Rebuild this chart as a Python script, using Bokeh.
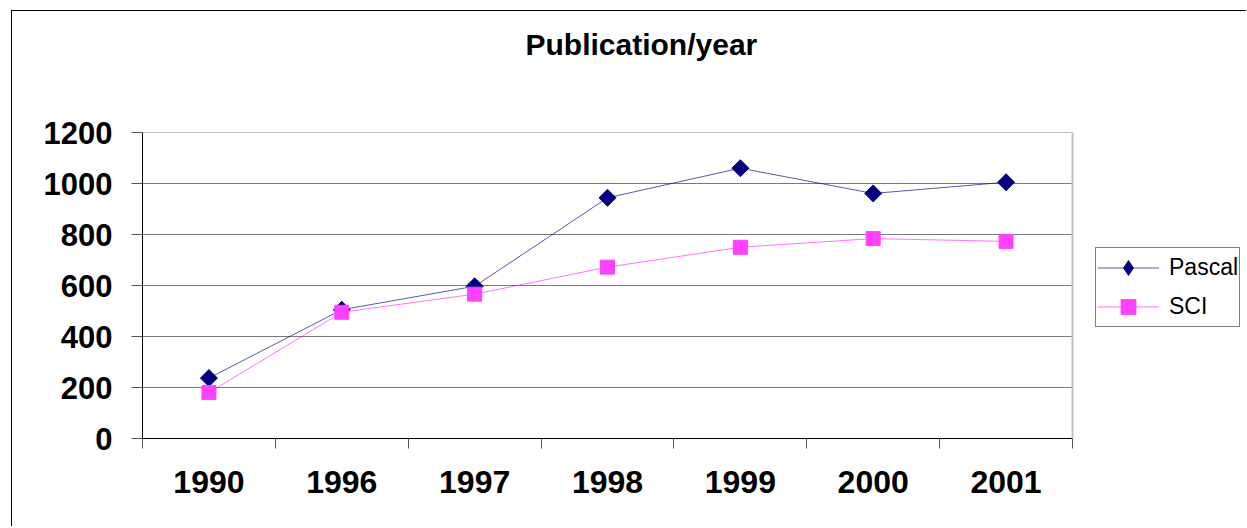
from bokeh.plotting import figure
from bokeh.models import Range1d, FixedTicker, Span, Legend, LegendItem, Title
from bokeh.embed import file_html
from bokeh.resources import INLINE

# ---- data ----
years = ["1990", "1996", "1997", "1998", "1999", "2000", "2001"]
pascal = [237, 505, 597, 944, 1060, 961, 1005]
sci = [180, 495, 566, 672, 750, 784, 773]
y_ticks = [0, 200, 400, 600, 800, 1000, 1200]
series_names = ["Pascal", "SCI"]
title_text = "Publication/year"

FONT = "Liberation Sans"
n = len(years)
xs = [i + 0.5 for i in range(n)]

# layout (pixels): plot area 930 px wide, drawing frame runs on to the right edge
CANVAS_W, CANVAS_H = 1235, 516
LEFT, TOP, BOTTOM = 130, 121, 89
PLOT_W = 930
frame_w = CANVAS_W - LEFT
x_end = n * frame_w / PLOT_W

p = figure(width=CANVAS_W, height=CANVAS_H,
           x_range=Range1d(0, x_end), y_range=Range1d(0, max(y_ticks)),
           output_backend="svg", toolbar_location=None,
           min_border_left=LEFT, min_border_right=0,
           min_border_top=TOP, min_border_bottom=BOTTOM,
           margin=(10, 0, 0, 11))
p.styles = {"border-left": "1px solid black", "border-top": "1px solid black"}
p.outline_line_color = None
p.background_fill_color = "white"
p.border_fill_color = "white"

# title (spacer title next to the frame, real title above it)
p.title.text = ""
p.add_layout(Title(text=" ", text_font_size="1px", standoff=69), "above")
p.add_layout(Title(text=title_text, text_font=FONT, text_font_size="30px",
                   text_font_style="bold", text_color="black",
                   align="left", offset=383, standoff=0), "above")

# grid: drawn only across the plot area
p.xgrid.visible = False
p.ygrid.visible = False
p.segment(x0=[0] * len(y_ticks), x1=[n] * len(y_ticks), y0=y_ticks, y1=y_ticks,
          line_color="#7a7a7a", line_width=1)

# y axis
ya = p.yaxis[0]
ya.ticker = FixedTicker(ticks=y_ticks)
ya.axis_line_color = "black"
ya.major_tick_out = 11
ya.major_tick_in = 0
ya.minor_tick_out = 0
ya.minor_tick_in = 0
ya.major_tick_line_color = "#555555"
ya.major_label_standoff = 19
ya.major_label_text_font = FONT
ya.major_label_text_font_size = "31px"
ya.major_label_text_font_style = "bold"
ya.major_label_text_color = "black"

# x axis: labels at category centres, ticks at category boundaries
xa = p.xaxis[0]
xa.bounds = (0, n)
xa.ticker = FixedTicker(ticks=xs, minor_ticks=list(range(n + 1)))
xa.major_label_overrides = {x: y for x, y in zip(xs, years)}
xa.axis_line_color = "black"
xa.major_tick_out = 0
xa.major_tick_in = 0
xa.minor_tick_out = 10
xa.minor_tick_in = 0
xa.minor_tick_line_color = "#555555"
xa.major_label_standoff = 22
xa.major_label_text_font = FONT
xa.major_label_text_font_size = "32px"
xa.major_label_text_font_style = "bold"
xa.major_label_text_color = "black"

# right plot-area edge
p.add_layout(Span(location=n, dimension="height",
                  line_color="#c0c0c0", line_width=2))

# series
NAVY, MAGENTA = "#000080", "#ff00ff"
l1 = p.line(xs, pascal, line_color=NAVY, line_width=1, line_alpha=0.65)
s1 = p.scatter(xs, pascal, marker="square", size=12, angle=0.7853981634,
               fill_color=NAVY, line_color=NAVY)
l2 = p.line(xs, sci, line_color=MAGENTA, line_width=1, line_alpha=0.55)
s2 = p.scatter(xs, sci, marker="square", size=14,
               fill_color="#ff40ff", line_color="#ff40ff")

# diamond symbol for the legend only (legend glyphs are never rotated)
d1 = p.scatter(xs, pascal, marker="diamond", size=12,
               fill_color=NAVY, line_color=NAVY, visible=False)

legend = Legend(items=[LegendItem(label=series_names[0], renderers=[l1, d1]),
                       LegendItem(label=series_names[1], renderers=[l2, s2])],
                location=(953, 111), margin=0, padding=1, spacing=2,
                glyph_width=62, glyph_height=37, label_height=37,
                label_standoff=10, label_text_font=FONT,
                label_text_font_size="23px", label_text_color="black",
                inactive_fill_alpha=0,
                border_line_color="black", border_line_width=1,
                background_fill_color="white", background_fill_alpha=1)
p.add_layout(legend)

open("out.html", "w").write(file_html(p, INLINE))
